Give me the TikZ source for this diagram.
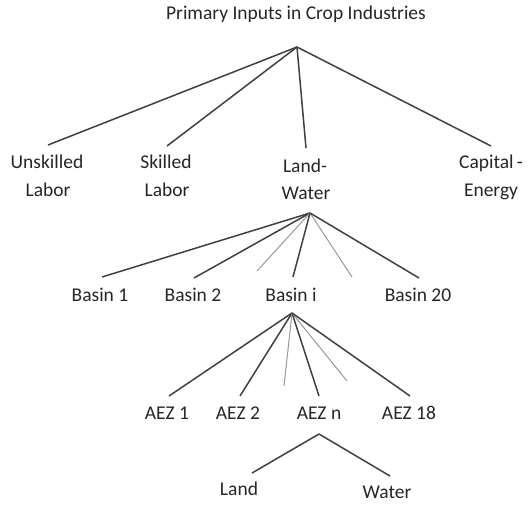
\documentclass[tikz,border=0pt]{standalone}
\usepackage{fontspec}
\setmainfont{Carlito}
\begin{document}
\begin{tikzpicture}[x=1pt,y=-1pt,
  lbl/.style={inner sep=0pt,font=\fontsize{19.5}{22}\selectfont,text=black!85},
  br/.style={draw=black!75,line width=1.5pt},
  faint/.style={draw=black!40,line width=1pt}]
\useasboundingbox[fill=white] (0,0) rectangle (529,504);
% labels
\node[lbl] (title) at (296,14) {Primary Inputs in Crop Industries};
\node[lbl] (unsk1) at (47,162) {Unskilled};
\node[lbl] (unsk2) at (48,190) {Labor};
\node[lbl] (sk1) at (166,162) {Skilled};
\node[lbl] (sk2) at (167,190) {Labor};
\node[lbl] (lw1) at (305,166) {Land-};
\node[lbl] (lw2) at (306,193) {Water};
\node[lbl] (ce1) at (491,163) {Capital\,-};
\node[lbl] (ce2) at (491,192) {Energy};
\node[lbl] (b1) at (100,295) {Basin 1};
\node[lbl] (b2) at (193,295) {Basin 2};
\node[lbl] (bi) at (291,295) {Basin i};
\node[lbl] (b20) at (418,295) {Basin 20};
\node[lbl] (a1) at (167,413) {AEZ 1};
\node[lbl] (a2) at (238,413) {AEZ 2};
\node[lbl] (an) at (319,413) {AEZ n};
\node[lbl] (a18) at (409,413) {AEZ 18};
\node[lbl] (land) at (239,489) {Land};
\node[lbl] (water) at (387,492) {Water};
% junctions and line ends
\coordinate (r0) at (297,47);
\coordinate (eU) at (48,145);
\coordinate (eS) at (167,146);
\coordinate (eL) at (306,148);
\coordinate (eC) at (491,146);
\coordinate (r1) at (310,213);
\coordinate (e1) at (102,277);
\coordinate (e2) at (194,278);
\coordinate (g1) at (257,271);
\coordinate (ei) at (293,277);
\coordinate (g2) at (352,277);
\coordinate (e20) at (419,278);
\coordinate (r2) at (292,313);
\coordinate (f1) at (169,396);
\coordinate (f2) at (240,396);
\coordinate (h1) at (284,386);
\coordinate (fn) at (319,396);
\coordinate (h2) at (347,381);
\coordinate (f18) at (410,396);
\coordinate (r3) at (319,434);
\coordinate (fl) at (252,473);
\coordinate (fw) at (390,476);
% connectors
\draw[br] (r0) -- (eU);
\draw[br] (r0) -- (eS);
\draw[br] (r0) -- (eL);
\draw[br] (r0) -- (eC);
\draw[br] (r1) -- (e1);
\draw[br] (r1) -- (e2);
\draw[faint] (r1) -- (g1);
\draw[br] (r1) -- (ei);
\draw[faint] (r1) -- (g2);
\draw[br] (r1) -- (e20);
\draw[br] (r2) -- (f1);
\draw[br] (r2) -- (f2);
\draw[faint] (r2) -- (h1);
\draw[br] (r2) -- (fn);
\draw[faint] (r2) -- (h2);
\draw[br] (r2) -- (f18);
\draw[br] (r3) -- (fl);
\draw[br] (r3) -- (fw);
\end{tikzpicture}
\end{document}
